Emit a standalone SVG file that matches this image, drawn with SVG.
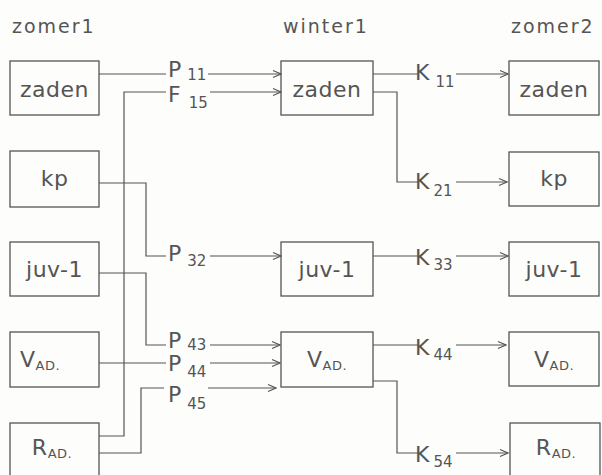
<svg xmlns="http://www.w3.org/2000/svg" width="602" height="475" viewBox="0 0 602 475">
<defs>
<marker id="arr" markerWidth="10" markerHeight="10" refX="9" refY="5" orient="auto" markerUnits="userSpaceOnUse">
<path d="M1,1.5 L9,5 L1,8.5" fill="none" stroke="#555" stroke-width="1.1"/>
</marker>
</defs>
<style>
.box{fill:none;stroke:#555;stroke-width:1.3}
.t{font-family:"DejaVu Sans","Liberation Sans",sans-serif;fill:#555;font-size:22px;letter-spacing:0.5px}
.h{font-family:"DejaVu Sans","Liberation Sans",sans-serif;fill:#555;font-size:19px;letter-spacing:2px}
.lb{font-family:"DejaVu Sans","Liberation Sans",sans-serif;fill:#555;font-size:22px}
.sub{font-size:15px}
.ad{font-size:13px}
.c{fill:none;stroke:#555;stroke-width:1.2}
.a{fill:none;stroke:#555;stroke-width:1.1;marker-end:url(#arr)}
</style>
<rect width="602" height="475" fill="#fdfdfc"/>
<g id="headers">
<text class="h" x="12" y="33">zomer1</text>
<text class="h" x="283" y="33">winter1</text>
<text class="h" x="511" y="33">zomer2</text>
</g>
<g id="z1-zaden"><rect class="box" x="10" y="61" width="89" height="54"/><text class="t" x="54.5" y="97" text-anchor="middle">zaden</text></g>
<g id="z1-kp"><rect class="box" x="10" y="151" width="89" height="56"/><text class="t" x="54.5" y="186" text-anchor="middle">kp</text></g>
<g id="z1-juv"><rect class="box" x="10" y="242" width="89" height="54"/><text class="t" x="54.5" y="277" text-anchor="middle">juv-1</text></g>
<g id="z1-vad"><rect class="box" x="10" y="332" width="89" height="55"/><text class="t" x="40" y="367" text-anchor="middle">V<tspan class="ad" dy="3">AD.</tspan></text></g>
<g id="z1-rad"><rect class="box" x="10" y="423" width="89" height="62"/><text class="t" x="52" y="455" text-anchor="middle">R<tspan class="ad" dy="3">AD.</tspan></text></g>
<g id="w1-zaden"><rect class="box" x="281" y="61" width="92" height="54"/><text class="t" x="327" y="97" text-anchor="middle">zaden</text></g>
<g id="w1-juv"><rect class="box" x="281" y="242" width="92" height="54"/><text class="t" x="327" y="277" text-anchor="middle">juv-1</text></g>
<g id="w1-vad"><rect class="box" x="281" y="332" width="92" height="55"/><text class="t" x="327" y="367" text-anchor="middle">V<tspan class="ad" dy="3">AD.</tspan></text></g>
<g id="z2-zaden"><rect class="box" x="509" y="61" width="90" height="54"/><text class="t" x="554" y="97" text-anchor="middle">zaden</text></g>
<g id="z2-kp"><rect class="box" x="509" y="152" width="90" height="54"/><text class="t" x="554" y="186" text-anchor="middle">kp</text></g>
<g id="z2-juv"><rect class="box" x="509" y="242" width="90" height="54"/><text class="t" x="554" y="277" text-anchor="middle">juv-1</text></g>
<g id="z2-vad"><rect class="box" x="509" y="332" width="90" height="54"/><text class="t" x="554" y="367" text-anchor="middle">V<tspan class="ad" dy="3">AD.</tspan></text></g>
<g id="z2-rad"><rect class="box" x="510" y="423" width="90" height="62"/><text class="t" x="556" y="455" text-anchor="middle">R<tspan class="ad" dy="3">AD.</tspan></text></g>
<g id="connectors">
<polyline class="c" points="99,74 166,74"/><line class="a" x1="208" y1="74" x2="281" y2="74"/>
<polyline class="c" points="99,436 124,436 124,92 166,92"/><line class="a" x1="210" y1="92" x2="281" y2="92"/>
<polyline class="c" points="99,183 146,183 146,256 166,256"/><line class="a" x1="210" y1="256" x2="281" y2="256"/>
<polyline class="c" points="99,273 146,273 146,345 166,345"/><line class="a" x1="210" y1="345" x2="280" y2="345"/>
<polyline class="c" points="99,363 166,363"/><line class="a" x1="210" y1="363" x2="280" y2="363"/>
<polyline class="c" points="99,453 141,453 141,388 164,388"/><line class="a" x1="208" y1="388" x2="276" y2="388"/>
<polyline class="c" points="373,74 418,74"/><line class="a" x1="456" y1="74" x2="508" y2="74"/>
<polyline class="c" points="373,92 397,92 397,182 418,182"/><line class="a" x1="456" y1="182" x2="507" y2="182"/>
<polyline class="c" points="373,256 418,256"/><line class="a" x1="456" y1="256" x2="508" y2="256"/>
<polyline class="c" points="373,345 418,345"/><line class="a" x1="456" y1="345" x2="506" y2="345"/>
<polyline class="c" points="373,381 397,381 397,453 418,453"/><line class="a" x1="456" y1="453" x2="508" y2="453"/>
</g>
<g id="labels">
<text class="lb" x="168" y="77">P<tspan class="sub" dx="6" dy="3">11</tspan></text>
<text class="lb" x="168" y="102">F<tspan class="sub" dx="8" dy="6">15</tspan></text>
<text class="lb" x="168" y="261">P<tspan class="sub" dx="6" dy="5">32</tspan></text>
<text class="lb" x="168" y="348">P<tspan class="sub" dx="6" dy="2">43</tspan></text>
<text class="lb" x="168" y="371">P<tspan class="sub" dx="6" dy="6">44</tspan></text>
<text class="lb" x="168" y="402">P<tspan class="sub" dx="6" dy="7">45</tspan></text>
<text class="lb" x="415" y="80">K<tspan class="sub" dx="6" dy="7">11</tspan></text>
<text class="lb" x="415" y="189">K<tspan class="sub" dx="4" dy="7">21</tspan></text>
<text class="lb" x="415" y="265">K<tspan class="sub" dx="4" dy="5">33</tspan></text>
<text class="lb" x="415" y="355">K<tspan class="sub" dx="4" dy="5">44</tspan></text>
<text class="lb" x="415" y="462">K<tspan class="sub" dx="4" dy="5">54</tspan></text>
</g>
</svg>
